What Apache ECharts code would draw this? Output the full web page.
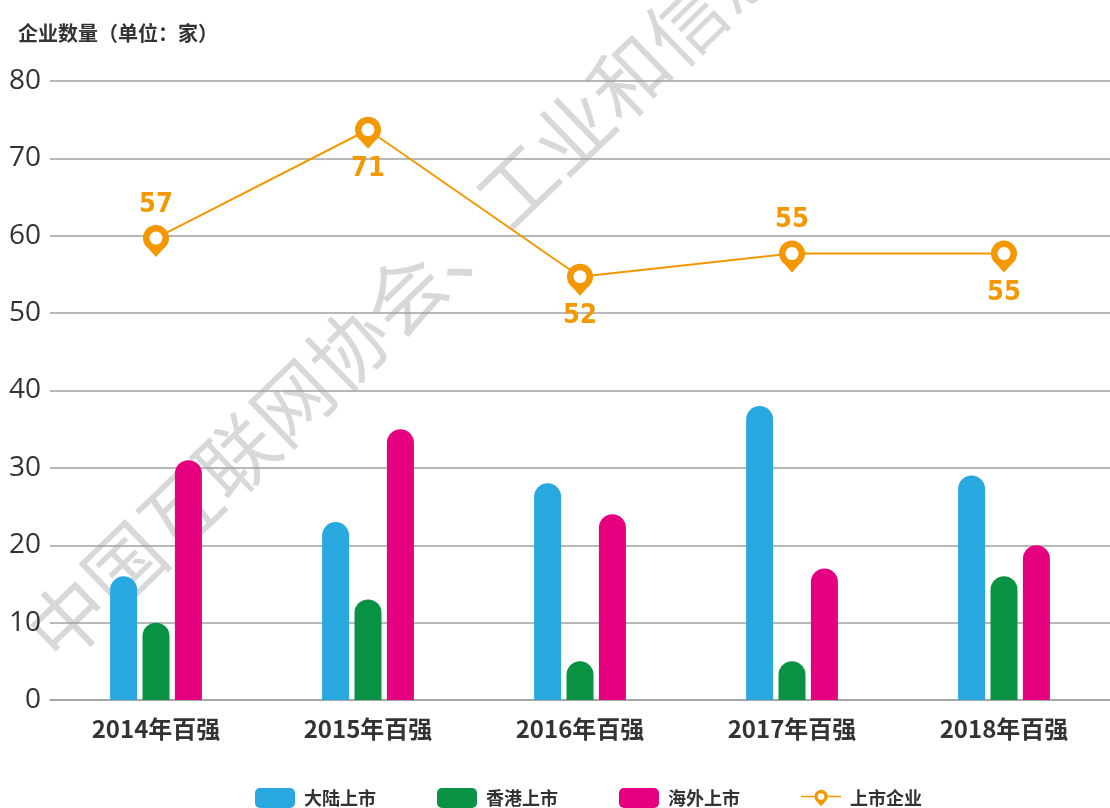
<!DOCTYPE html>
<html>
<head>
<meta charset="utf-8">
<script src="https://cdn.jsdelivr.net/npm/echarts@6/dist/echarts.min.js"></script>
<style>
  html, body { margin: 0; padding: 0; background: #fff; }
  #chart { width: 1110px; height: 808px; }
</style>
</head>
<body>
<div id="chart"></div>
<script>
var categories = ['2014年百强', '2015年百强', '2016年百强', '2017年百强', '2018年百强']
var mainland = [16, 23, 28, 38, 29]
var hongkong = [10, 13, 5, 5, 16]
var overseas = [31, 35, 24, 17, 20]
var listed = [57, 71, 52, 55, 55]
// 上市企业 label placement per year
var labelPos = ['top', 'bottom', 'bottom', 'top', 'bottom']

var CN = '"Noto Sans CJK SC", "Noto Sans", sans-serif'
var ORANGE = '#f39800'
// filled pin: circle r13 + short tail
var pin = 'path://M5.54 23.65 A13 13 0 1 1 20.46 23.65 L13 32 Z'
// legend icon: line + ring with hole + tail + line
var pinIcon = 'path://M0 8 L18 8 L18 10 L0 10 Z' +
  'M21.84 16.37 A9 9 0 1 1 32.16 16.37 L27 22 Z' +
  'M31.5 9 A4.5 4.5 0 1 0 22.5 9 A4.5 4.5 0 1 0 31.5 9 Z' +
  'M36 8 L54 8 L54 10 L36 10 Z'

var chart = echarts.init(document.getElementById('chart'))

function barSeries (name, data, color) {
  return {
    name: name,
    type: 'bar',
    barWidth: 27,
    barGap: '20%',
    data: data,
    itemStyle: {
      color: color,
      borderRadius: [14, 14, 0, 0]
    }
  }
}

var option = {
  animation: false,
  title: {
    text: '企业数量（单位：家）',
    left: 13,
    top: 18,
    textStyle: { fontFamily: CN, fontSize: 20, fontWeight: 'bold', color: '#333' }
  },
  graphic: [{
    type: 'text',
    z: -1,
    x: 40,
    y: 646,
    rotation: 44 * Math.PI / 180,
    style: {
      text: '中国互联网协会、工业和信息',
      font: 'normal 78px "Noto Sans CJK SC"',
      fill: '#d8d8d8',
      textAlign: 'left',
      textVerticalAlign: 'middle'
    }
  }],
  legend: {
    left: 250,
    top: 783,
    itemWidth: 40,
    itemHeight: 20,
    itemGap: 61,
    textStyle: { fontFamily: CN, fontSize: 18, fontWeight: 'bold', color: '#333', padding: [0, 0, 0, 4] },
    data: ['大陆上市', '香港上市', '海外上市', { name: '上市企业', icon: pinIcon }]
  },
  grid: {
    left: 50,
    width: 1065,
    top: 81,
    bottom: 108
  },
  xAxis: {
    type: 'category',
    data: categories,
    axisTick: { show: false },
    axisLine: { lineStyle: { color: '#a0a0a0', width: 1.5 } },
    axisLabel: {
      margin: 17,
      fontFamily: CN,
      fontSize: 24,
      fontWeight: 'bold',
      color: '#333'
    }
  },
  yAxis: [{
    type: 'value',
    min: 0,
    max: 80,
    interval: 10,
    axisLine: { show: false },
    axisTick: { show: false },
    axisLabel: { margin: 9, fontFamily: '"Open Sans", sans-serif', fontSize: 28, color: '#333' },
    splitLine: { lineStyle: { color: '#a0a0a0', width: 1.5 } }
  }, {
    // hidden scale for 上市企业, shifted as in the original picture
    type: 'value',
    min: -2.7,
    max: 77.3,
    show: false,
    splitLine: { show: false }
  }],
  series: [
    barSeries('大陆上市', mainland, '#29a8e0'),
    barSeries('香港上市', hongkong, '#0a9244'),
    barSeries('海外上市', overseas, '#e4007f'),
    {
      name: '上市企业',
      type: 'line',
      yAxisIndex: 1,
      z: 5,
      symbol: pin,
      symbolSize: [26, 32],
      symbolOffset: [0, 3],
      lineStyle: { color: ORANGE, width: 2 },
      itemStyle: { color: ORANGE },
      data: listed.map(function (v, i) {
        return { value: v, label: { position: labelPos[i] } }
      }),
      label: {
        show: true,
        distance: 7,
        color: ORANGE,
        fontSize: 27,
        fontWeight: 'bold',
        fontFamily: '"Liberation Sans Narrow", "DejaVu Sans Condensed", "Roboto", sans-serif'
      }
    },
    {
      // white centre of each pin
      type: 'scatter',
      yAxisIndex: 1,
      z: 6,
      silent: true,
      symbol: 'circle',
      symbolSize: 13,
      itemStyle: { color: '#fff', opacity: 1 },
      data: listed
    }
  ]
}

chart.setOption(option)
</script>
</body>
</html>
